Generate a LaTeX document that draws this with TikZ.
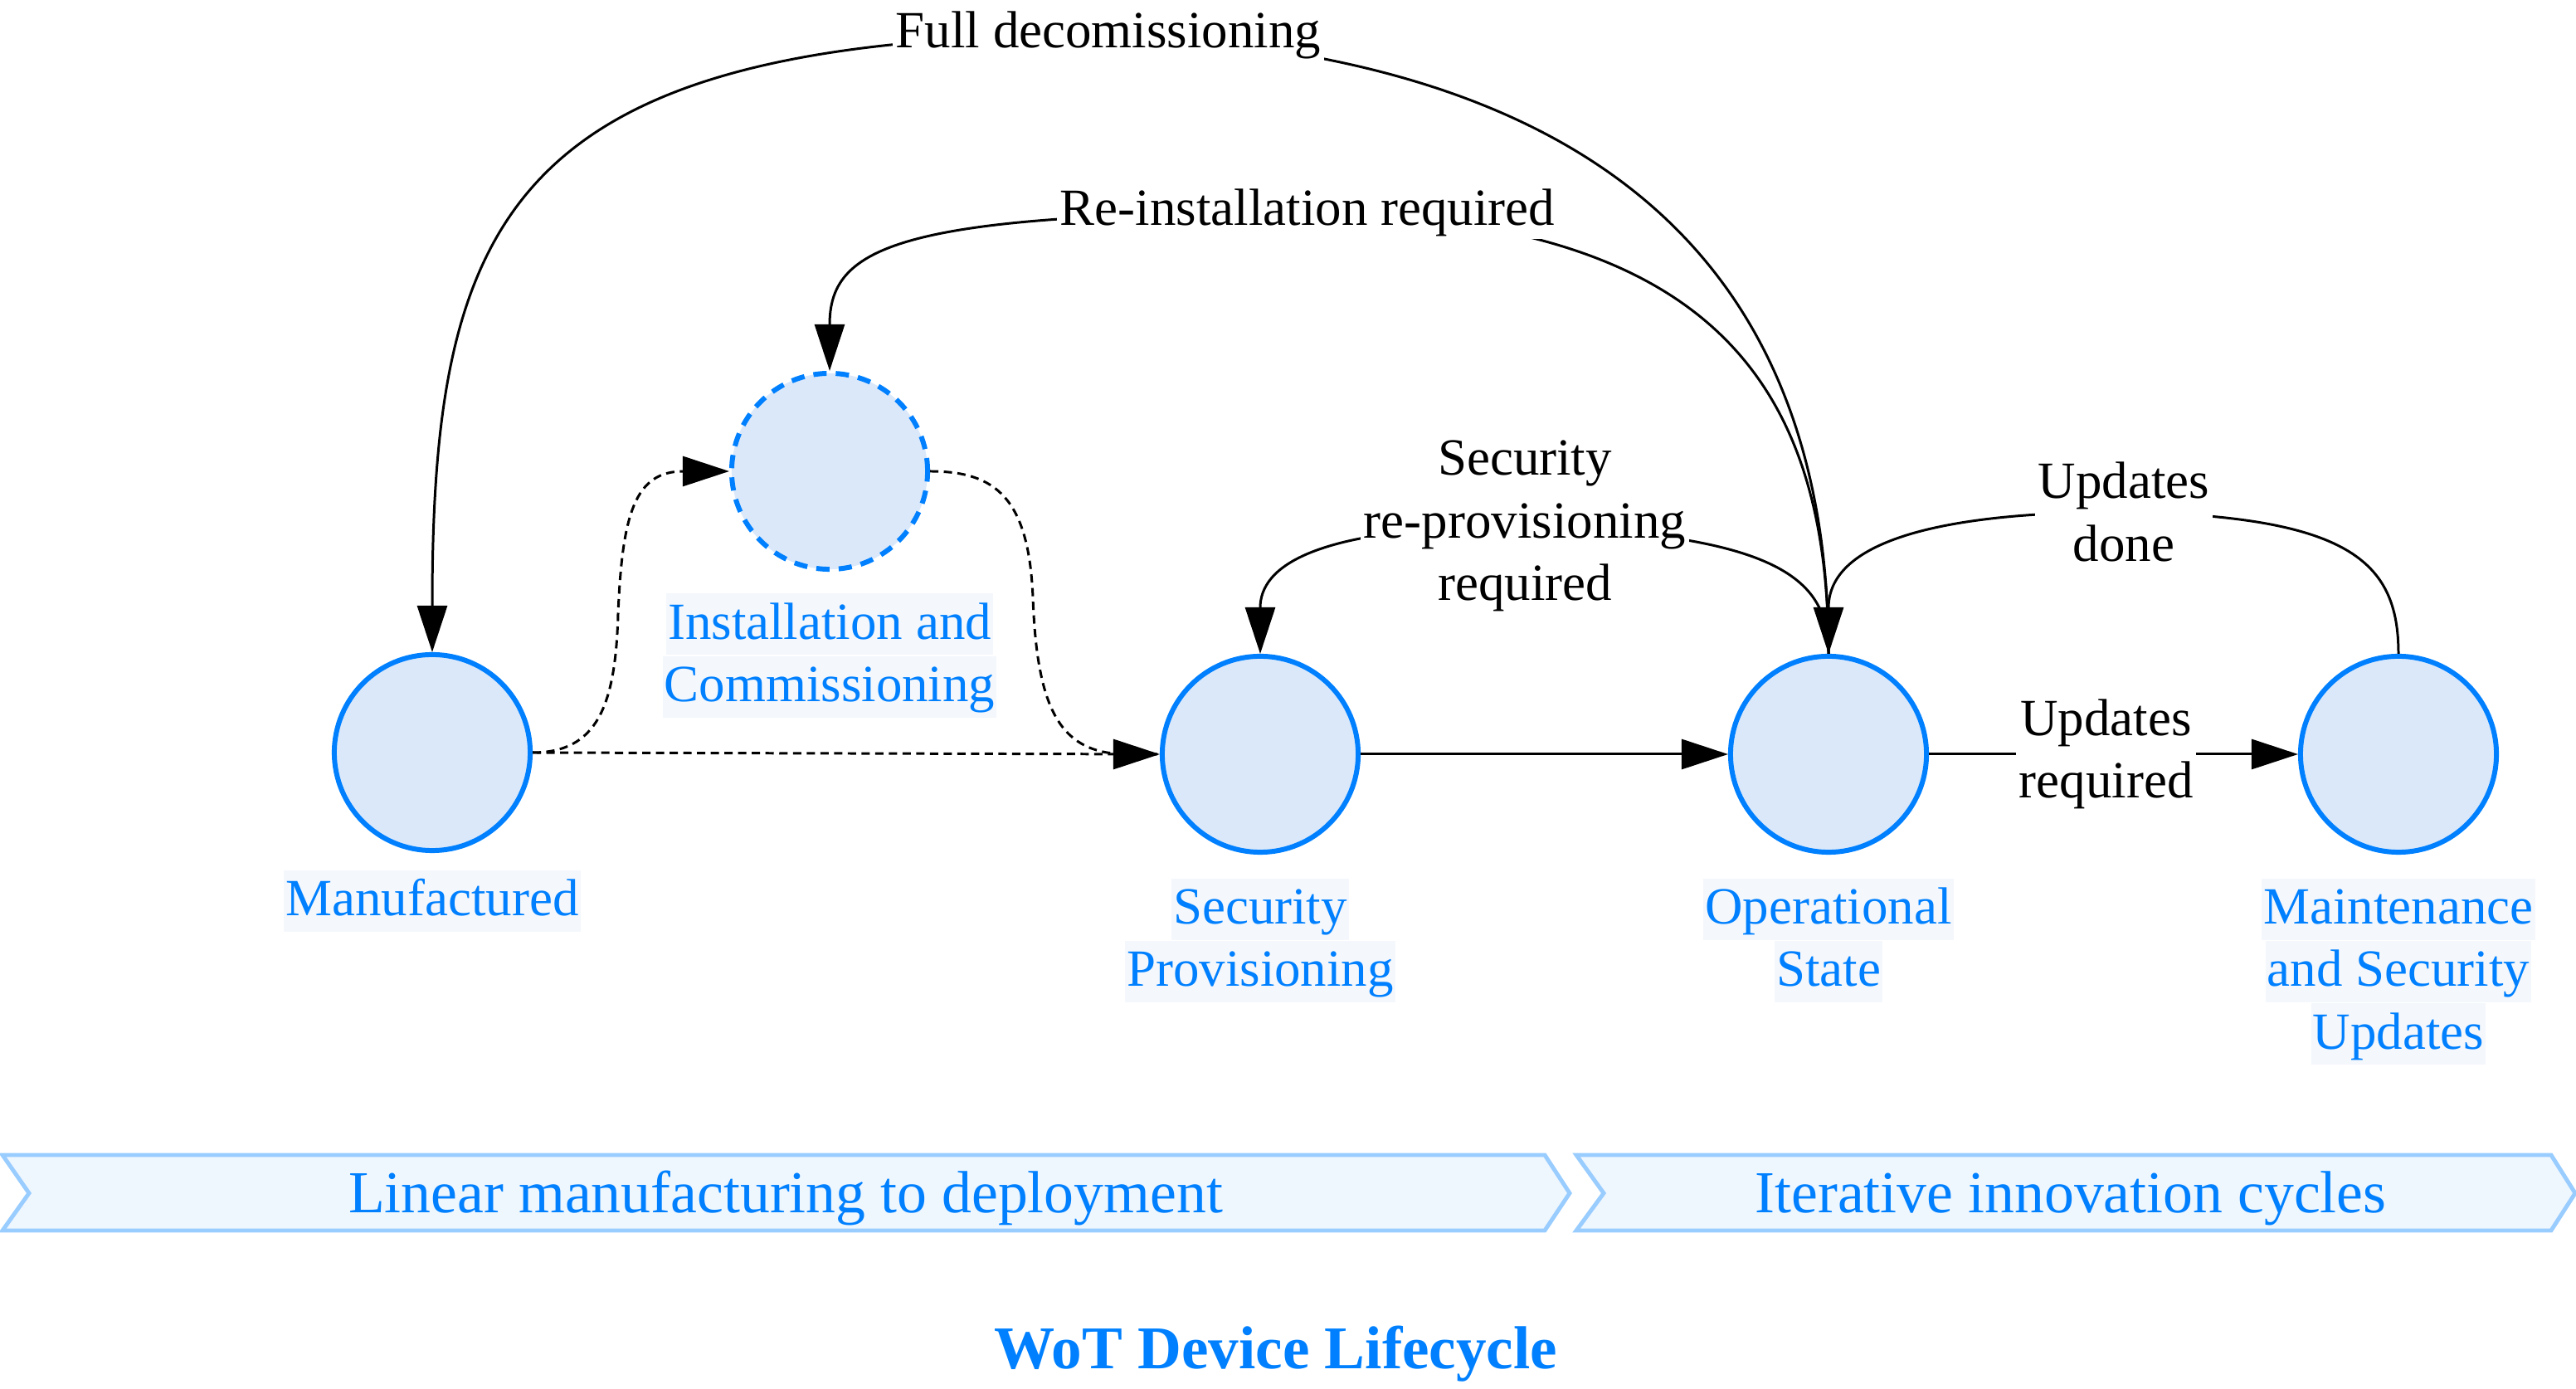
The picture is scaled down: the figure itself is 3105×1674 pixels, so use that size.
\documentclass[tikz,border=0pt]{standalone}
\usepackage{fontspec}
\setmainfont{Liberation Serif}
\usetikzlibrary{arrows.meta}
\definecolor{cblue}{RGB}{0,128,255}
\definecolor{cfill}{RGB}{218,232,250}
\definecolor{lblbg}{RGB}{244,247,251}
\definecolor{bfill}{RGB}{238,246,254}
\definecolor{bline}{RGB}{153,204,255}
\setlength{\fboxsep}{0.6pt}
\newcommand{\lbx}[1]{\colorbox{lblbg}{\rule[-4.8pt]{0pt}{19.8pt}#1}}
\begin{document}
\begin{tikzpicture}[x=0.01cm,y=-0.01cm,
  state/.style={circle,draw=cblue,fill=cfill,line width=1.7pt,minimum size=2.36cm,inner sep=0pt},
  statelbl/.style={text=cblue,font=\fontsize{17.9pt}{21.4pt}\selectfont,align=center,inner sep=0pt},
  edgelbl/.style={fill=white,font=\fontsize{17.9pt}{21.4pt}\selectfont,align=center,inner sep=1pt},
  conn/.style={line width=0.85pt,-{Triangle[length=0.56cm,width=0.36cm]}},
  plainconn/.style={line width=0.85pt},
  dotconn/.style={conn,dash pattern=on 0.1cm off 0.065cm},
  dotplain/.style={plainconn,dash pattern=on 0.1cm off 0.065cm},
  banner/.style={draw=bline,fill=bfill,line width=1.4pt},
  bannertext/.style={text=cblue,font=\fontsize{20.4pt}{24pt}\selectfont,inner sep=0pt},
  titletext/.style={text=cblue,font=\fontsize{20.8pt}{24pt}\selectfont\bfseries,inner sep=0pt}
]
\useasboundingbox (0,0) rectangle (3105,1674);

% states
\node[state] (man) at (521,907) {};
\node[state,dash pattern=on 0.16cm off 0.11cm] (inst) at (1000,568) {};
\node[state] (sp) at (1519,909) {};
\node[state] (op) at (2204,909) {};
\node[state] (mt) at (2891,909) {};

% state labels
\node[statelbl,anchor=north] (lman) at (521,1048) {\lbx{Manufactured}};
\node[statelbl] (linst) at (1000,790) {\lbx{Installation and}\\\lbx{Commissioning}};
\node[statelbl,anchor=north] (lsp) at (1519,1058) {\lbx{Security}\\\lbx{Provisioning}};
\node[statelbl,anchor=north] (lop) at (2204,1058) {\lbx{Operational}\\\lbx{State}};
\node[statelbl,anchor=north] (lmt) at (2891,1058) {\lbx{Maintenance}\\\lbx{and Security}\\\lbx{Updates}};

% dashed connectors
\draw[dotplain] (man.east) -- (sp.west);
\draw[dotconn] (man.east) .. controls (720,907) and (742,850) .. (745,740)
   .. controls (750,620) and (765,568) .. (inst.west);
\draw[dotconn] (inst.east) .. controls (1200,568) and (1240,600) .. (1245,720)
   .. controls (1250,860) and (1280,909) .. (1360,909) -- (sp.west);

% solid connectors
\draw[conn] (sp.east) -- (op.west);
\draw[conn] (op.east) -- (mt.west) node[pos=0.48,edgelbl] (lur) {Updates\\required};

\draw[conn] (mt.north) .. controls (2891,675) and (2830,622) .. (2560,617)
   node[edgelbl] (lud) {Updates\\done}
   .. controls (2330,617) and (2204,655) .. (op.north);

\draw[conn] (op.north) .. controls (2204,700) and (2150,644) .. (1838,634)
   node[edgelbl] (lsr) {Security\\re-provisioning\\required}
   .. controls (1580,634) and (1519,684) .. (sp.north);

\draw[conn] (op.north) .. controls (2204,450) and (2050,262) .. (1576,256)
   node[edgelbl] (lri) {Re-installation required}
   .. controls (1080,256) and (1000,298) .. (inst.north);

\draw[conn] (op.north) .. controls (2204,300) and (1900,64) .. (1336,42)
   node[edgelbl] (lfd) {Full decomissioning}
   .. controls (620,42) and (521,250) .. (man.north);

% banners
\draw[banner] (3,1392) -- (1862,1392) -- (1892,1438) -- (1862,1483) -- (3,1483) -- (35,1438) -- cycle;
\draw[banner] (1900,1392) -- (3075,1392) -- (3104,1438) -- (3075,1483) -- (1900,1483) -- (1933,1438) -- cycle;
\node[bannertext] (b1) at (947,1444) {Linear manufacturing to deployment};
\node[bannertext] (b2) at (2496,1444) {Iterative innovation cycles};

\node[titletext] (title) at (1538,1632) {WoT Device Lifecycle};
\end{tikzpicture}
\end{document}
